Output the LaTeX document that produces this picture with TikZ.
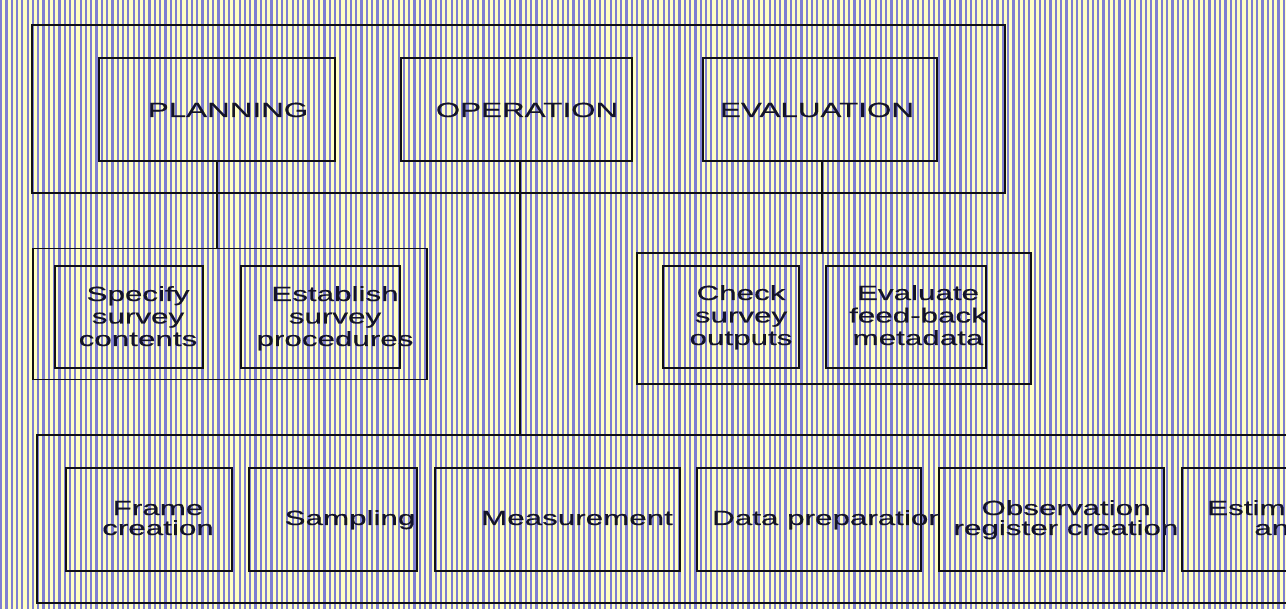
\documentclass[tikz,border=0pt]{standalone}
\usepackage{fontspec}
\setmainfont[FakeStretch=1.53,FakeBold=0.4]{Liberation Sans}
\definecolor{stripeY}{RGB}{255,255,196}
\definecolor{stripeB}{RGB}{126,126,210}
\definecolor{linec}{RGB}{16,16,22}
\definecolor{txtc}{RGB}{20,20,40}
\tikzset{
  box/.style={draw=linec, line width=1.5pt, inner sep=0pt, outer sep=0pt},
  lbl/.style={text=txtc, inner sep=0pt, anchor=base, align=center,
              font=\fontsize{20.5}{22.5}\selectfont},
  lbltight/.style={lbl, font=\fontsize{20.5}{20}\selectfont},
  wire/.style={draw=linec, line width=1.5pt}
}
\begin{document}
\begin{tikzpicture}[x=1pt,y=-1pt]
\useasboundingbox (0,0) rectangle (1286,609);
\clip (0,0) rectangle (1286,609);

% striped backdrop
\fill[stripeY] (0,0) rectangle (1286,609);
\foreach \k in {0,...,243} {\fill[stripeB] (\k*5.3,0) rectangle ++(2.2,609);}

% top level: phases
\node[box, minimum width=973, minimum height=168] (top) at (518.5,109) {};
\node[box, minimum width=236, minimum height=103] (plan) at (217,109.5) {};
\node[box, minimum width=231, minimum height=103] (oper) at (516.5,109.5) {};
\node[box, minimum width=234, minimum height=103] (eval) at (820,109.5) {};
\node[lbl] (planT) at (228,117) {PLANNING};
\node[lbl] (operT) at (527,117) {OPERATION};
\node[lbl] (evalT) at (817,117) {EVALUATION};

% planning sub-steps (base anchor sits on the last line)
\node[box, minimum width=394, minimum height=131] (grpL) at (230,314) {};
\node[box, minimum width=148, minimum height=102] (spec) at (129,317) {};
\node[box, minimum width=159, minimum height=102] (estb) at (320.5,317) {};
\node[lbl] (specT) at (138,346) {Specify\\survey\\contents};
\node[lbl] (estbT) at (335,346) {Establish\\survey\\procedures};

% evaluation sub-steps
\node[box, minimum width=394, minimum height=131] (grpR) at (834,318.5) {};
\node[box, minimum width=136, minimum height=102] (chk) at (731,317) {};
\node[box, minimum width=160, minimum height=102] (evf) at (906,317) {};
\node[lbl] (chkT) at (741,345) {Check\\survey\\outputs};
\node[lbl] (evfT) at (918,345) {Evaluate\\feed-back\\metadata};

% operation sub-steps
\node[box, minimum width=1263, minimum height=168] (grpB) at (668.5,519) {};
\node[box, minimum width=166, minimum height=103] (frm) at (149,519.5) {};
\node[box, minimum width=168, minimum height=103] (smp) at (333,519.5) {};
\node[box, minimum width=245, minimum height=103] (meas) at (557.5,519.5) {};
\node[box, minimum width=224, minimum height=103] (dat) at (809,519.5) {};
\node[box, minimum width=225, minimum height=103] (obs) at (1051.5,519.5) {};
\node[box, minimum width=225, minimum height=103] (estm) at (1294.5,519.5) {};
\node[lbltight] (frmT) at (158,535) {Frame\\creation};
\node[lbl] (smpT) at (350,525) {Sampling};
\node[lbl] (measT) at (577,525) {Measurement};
\begin{scope}
  \clip (dat.north west) rectangle (obs.south west);
  \node[lbl, anchor=base west] (datT) at (712,525) {Data preparation};
\end{scope}
\begin{scope}
  \clip (obs.north west) rectangle (estm.south west);
  \node[lbltight] (obsT) at (1066,535) {Observation\\register creation};
\end{scope}
\node[lbltight, anchor=base west] (estmT) at (1207,535) {Estimation and\\analysis};

% connectors from phases to their sub-steps
\draw[wire] (plan.south) -- (plan.south |- grpL.north);
\draw[wire] ([xshift=3.5pt]oper.south) -- ([xshift=3.5pt]oper.south |- grpB.north);
\draw[wire] ([xshift=2pt]eval.south) -- ([xshift=2pt]eval.south |- grpR.north);
\end{tikzpicture}
\end{document}
